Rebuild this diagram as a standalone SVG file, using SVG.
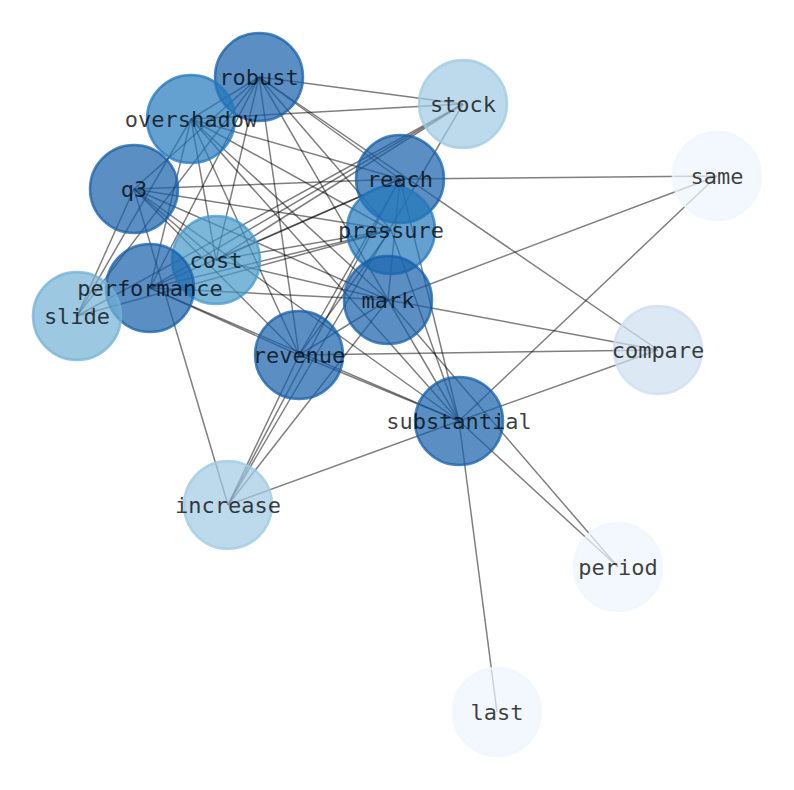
<svg xmlns="http://www.w3.org/2000/svg" width="794" height="790" viewBox="0 0 794 790">
<style>
.e{stroke:#000;stroke-opacity:0.5;stroke-width:1.5;fill:none}
.n{stroke-width:2.5;fill-opacity:0.7;stroke-opacity:0.75}
.t{font-family:"DejaVu Sans Mono","Liberation Mono",monospace;font-size:22px;fill:#000;fill-opacity:0.75;text-anchor:middle;dominant-baseline:central}
.d{fill:#155fa9;stroke:#155fa9}
.o{fill:#2277bc;stroke:#2277bc}
.c{fill:#4598ca;stroke:#4598ca}
.s{fill:#72b1d6;stroke:#72b1d6}
.k{fill:#9fcae2;stroke:#9fcae2}
.p{fill:#cddef0;stroke:#cddef0}
.w{fill:#eef5fd;stroke:#eef5fd}
</style>
<rect width="794" height="790" fill="#fff"/>
<g id="edges">
<line class="e" x1="259" y1="77" x2="463" y2="104"/>
<line class="e" x1="259" y1="77" x2="658" y2="350"/>
<line class="e" x1="259" y1="77" x2="400" y2="179"/>
<line class="e" x1="259" y1="77" x2="391" y2="230"/>
<line class="e" x1="259" y1="77" x2="388" y2="300"/>
<line class="e" x1="259" y1="77" x2="299" y2="355"/>
<line class="e" x1="259" y1="77" x2="216" y2="260"/>
<line class="e" x1="259" y1="77" x2="150" y2="288"/>
<line class="e" x1="259" y1="77" x2="77" y2="316"/>
<line class="e" x1="259" y1="77" x2="134" y2="189"/>
<line class="e" x1="259" y1="77" x2="191" y2="119"/>
<line class="e" x1="191" y1="119" x2="463" y2="104"/>
<line class="e" x1="191" y1="119" x2="400" y2="179"/>
<line class="e" x1="191" y1="119" x2="391" y2="230"/>
<line class="e" x1="191" y1="119" x2="388" y2="300"/>
<line class="e" x1="191" y1="119" x2="299" y2="355"/>
<line class="e" x1="191" y1="119" x2="216" y2="260"/>
<line class="e" x1="191" y1="119" x2="150" y2="288"/>
<line class="e" x1="191" y1="119" x2="77" y2="316"/>
<line class="e" x1="191" y1="119" x2="459" y2="421"/>
<line class="e" x1="134" y1="189" x2="400" y2="179"/>
<line class="e" x1="134" y1="189" x2="391" y2="230"/>
<line class="e" x1="134" y1="189" x2="388" y2="300"/>
<line class="e" x1="134" y1="189" x2="299" y2="355"/>
<line class="e" x1="134" y1="189" x2="459" y2="421"/>
<line class="e" x1="134" y1="189" x2="216" y2="260"/>
<line class="e" x1="134" y1="189" x2="228" y2="505"/>
<line class="e" x1="134" y1="189" x2="77" y2="316"/>
<line class="e" x1="463" y1="104" x2="228" y2="505"/>
<line class="e" x1="463" y1="104" x2="216" y2="260"/>
<line class="e" x1="463" y1="104" x2="150" y2="288"/>
<line class="e" x1="463" y1="104" x2="77" y2="316"/>
<line class="e" x1="400" y1="179" x2="717" y2="176"/>
<line class="e" x1="400" y1="179" x2="150" y2="288"/>
<line class="e" x1="400" y1="179" x2="216" y2="260"/>
<line class="e" x1="400" y1="179" x2="388" y2="300"/>
<line class="e" x1="400" y1="179" x2="459" y2="421"/>
<line class="e" x1="400" y1="179" x2="299" y2="355"/>
<line class="e" x1="400" y1="179" x2="228" y2="505"/>
<line class="e" x1="391" y1="230" x2="216" y2="260"/>
<line class="e" x1="391" y1="230" x2="150" y2="288"/>
<line class="e" x1="391" y1="230" x2="77" y2="316"/>
<line class="e" x1="391" y1="230" x2="459" y2="421"/>
<line class="e" x1="391" y1="230" x2="299" y2="355"/>
<line class="e" x1="216" y1="260" x2="388" y2="300"/>
<line class="e" x1="150" y1="288" x2="299" y2="355"/>
<line class="e" x1="150" y1="288" x2="459" y2="421"/>
<line class="e" x1="150" y1="288" x2="388" y2="300"/>
<line class="e" x1="388" y1="300" x2="717" y2="176"/>
<line class="e" x1="388" y1="300" x2="658" y2="350"/>
<line class="e" x1="388" y1="300" x2="618" y2="567"/>
<line class="e" x1="388" y1="300" x2="459" y2="421"/>
<line class="e" x1="388" y1="300" x2="228" y2="505"/>
<line class="e" x1="388" y1="300" x2="299" y2="355"/>
<line class="e" x1="299" y1="355" x2="658" y2="350"/>
<line class="e" x1="299" y1="355" x2="459" y2="421"/>
<line class="e" x1="299" y1="355" x2="228" y2="505"/>
<line class="e" x1="459" y1="421" x2="717" y2="176"/>
<line class="e" x1="459" y1="421" x2="658" y2="350"/>
<line class="e" x1="459" y1="421" x2="618" y2="567"/>
<line class="e" x1="459" y1="421" x2="497" y2="712"/>
<line class="e" x1="459" y1="421" x2="228" y2="505"/>
</g>
<g id="nodes">
<g id="node-robust"><circle class="n d" cx="259" cy="77" r="44"/></g>
<g id="node-overshadow"><circle class="n o" cx="191" cy="119" r="44"/></g>
<g id="node-q3"><circle class="n d" cx="134" cy="189" r="44"/></g>
<g id="node-stock"><circle class="n k" cx="463" cy="104" r="44"/></g>
<g id="node-reach"><circle class="n d" cx="400" cy="179" r="44"/></g>
<g id="node-pressure"><circle class="n o" cx="391" cy="230" r="44"/></g>
<g id="node-cost"><circle class="n c" cx="216" cy="260" r="44"/></g>
<g id="node-performance"><circle class="n d" cx="150" cy="288" r="44"/></g>
<g id="node-slide"><circle class="n s" cx="77" cy="316" r="44"/></g>
<g id="node-mark"><circle class="n d" cx="388" cy="300" r="44"/></g>
<g id="node-revenue"><circle class="n d" cx="299" cy="355" r="44"/></g>
<g id="node-compare"><circle class="n p" cx="658" cy="350" r="44"/></g>
<g id="node-same"><circle class="n w" cx="717" cy="176" r="44"/></g>
<g id="node-substantial"><circle class="n d" cx="459" cy="421" r="44"/></g>
<g id="node-increase"><circle class="n k" cx="228" cy="505" r="44"/></g>
<g id="node-period"><circle class="n w" cx="618" cy="567" r="44"/></g>
<g id="node-last"><circle class="n w" cx="497" cy="712" r="44"/></g>
</g>
<g id="labels">
<g id="label-robust"><text class="t" x="259" y="77">robust</text></g>
<g id="label-overshadow"><text class="t" x="191" y="119">overshadow</text></g>
<g id="label-q3"><text class="t" x="134" y="189">q3</text></g>
<g id="label-stock"><text class="t" x="463" y="104">stock</text></g>
<g id="label-reach"><text class="t" x="400" y="179">reach</text></g>
<g id="label-pressure"><text class="t" x="391" y="230">pressure</text></g>
<g id="label-cost"><text class="t" x="216" y="260">cost</text></g>
<g id="label-performance"><text class="t" x="150" y="288">performance</text></g>
<g id="label-slide"><text class="t" x="77" y="316">slide</text></g>
<g id="label-mark"><text class="t" x="388" y="300">mark</text></g>
<g id="label-revenue"><text class="t" x="299" y="355">revenue</text></g>
<g id="label-compare"><text class="t" x="658" y="350">compare</text></g>
<g id="label-same"><text class="t" x="717" y="176">same</text></g>
<g id="label-substantial"><text class="t" x="459" y="421">substantial</text></g>
<g id="label-increase"><text class="t" x="228" y="505">increase</text></g>
<g id="label-period"><text class="t" x="618" y="567">period</text></g>
<g id="label-last"><text class="t" x="497" y="712">last</text></g>
</g>
</svg>
